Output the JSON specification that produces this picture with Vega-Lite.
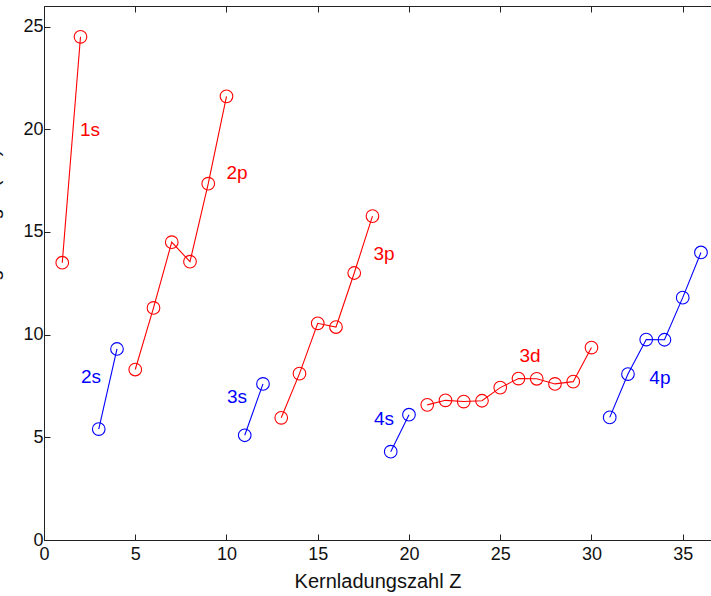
{
  "$schema": "https://vega.github.io/schema/vega-lite/v6.json",
  "autosize": "none",
  "width": 667,
  "height": 534,
  "padding": {"left": 44, "top": 6, "right": 0, "bottom": 56},
  "background": "white",
  "config": {
    "view": {"stroke": "#222222", "strokeWidth": 1},
    "font": "Liberation Sans",
    "axis": {
      "grid": false,
      "domainColor": "#222222",
      "tickColor": "#222222",
      "tickSize": -6,
      "ticks": true,
      "labelColor": "#111111",
      "labelFontSize": 18,
      "labelFont": "Liberation Sans",
      "titleFont": "Liberation Sans",
      "titleFontWeight": "normal",
      "titleColor": "#111111",
      "titleFontSize": 20
    }
  },
  "datasets": {
    "pts": [
      {"Z": 1, "E": 13.5, "shell": "1s", "grp": "red"},
      {"Z": 2, "E": 24.5, "shell": "1s", "grp": "red"},
      {"Z": 3, "E": 5.4, "shell": "2s", "grp": "blue"},
      {"Z": 4, "E": 9.3, "shell": "2s", "grp": "blue"},
      {"Z": 5, "E": 8.3, "shell": "2p", "grp": "red"},
      {"Z": 6, "E": 11.3, "shell": "2p", "grp": "red"},
      {"Z": 7, "E": 14.5, "shell": "2p", "grp": "red"},
      {"Z": 8, "E": 13.55, "shell": "2p", "grp": "red"},
      {"Z": 9, "E": 17.35, "shell": "2p", "grp": "red"},
      {"Z": 10, "E": 21.6, "shell": "2p", "grp": "red"},
      {"Z": 11, "E": 5.1, "shell": "3s", "grp": "blue"},
      {"Z": 12, "E": 7.6, "shell": "3s", "grp": "blue"},
      {"Z": 13, "E": 5.95, "shell": "3p", "grp": "red"},
      {"Z": 14, "E": 8.1, "shell": "3p", "grp": "red"},
      {"Z": 15, "E": 10.55, "shell": "3p", "grp": "red"},
      {"Z": 16, "E": 10.37, "shell": "3p", "grp": "red"},
      {"Z": 17, "E": 13.0, "shell": "3p", "grp": "red"},
      {"Z": 18, "E": 15.77, "shell": "3p", "grp": "red"},
      {"Z": 19, "E": 4.3, "shell": "4s", "grp": "blue"},
      {"Z": 20, "E": 6.1, "shell": "4s", "grp": "blue"},
      {"Z": 21, "E": 6.58, "shell": "3d", "grp": "red"},
      {"Z": 22, "E": 6.8, "shell": "3d", "grp": "red"},
      {"Z": 23, "E": 6.74, "shell": "3d", "grp": "red"},
      {"Z": 24, "E": 6.78, "shell": "3d", "grp": "red"},
      {"Z": 25, "E": 7.42, "shell": "3d", "grp": "red"},
      {"Z": 26, "E": 7.86, "shell": "3d", "grp": "red"},
      {"Z": 27, "E": 7.85, "shell": "3d", "grp": "red"},
      {"Z": 28, "E": 7.6, "shell": "3d", "grp": "red"},
      {"Z": 29, "E": 7.71, "shell": "3d", "grp": "red"},
      {"Z": 30, "E": 9.37, "shell": "3d", "grp": "red"},
      {"Z": 31, "E": 5.97, "shell": "4p", "grp": "blue"},
      {"Z": 32, "E": 8.08, "shell": "4p", "grp": "blue"},
      {"Z": 33, "E": 9.76, "shell": "4p", "grp": "blue"},
      {"Z": 34, "E": 9.75, "shell": "4p", "grp": "blue"},
      {"Z": 35, "E": 11.8, "shell": "4p", "grp": "blue"},
      {"Z": 36, "E": 14.0, "shell": "4p", "grp": "blue"}
    ],
    "labels": [
      {"Z": 2.52, "E": 19.96, "text": "1s", "grp": "red"},
      {"Z": 10.58, "E": 17.87, "text": "2p", "grp": "red"},
      {"Z": 18.63, "E": 13.92, "text": "3p", "grp": "red"},
      {"Z": 26.63, "E": 8.96, "text": "3d", "grp": "red"},
      {"Z": 2.58, "E": 7.94, "text": "2s", "grp": "blue"},
      {"Z": 10.58, "E": 6.96, "text": "3s", "grp": "blue"},
      {"Z": 18.63, "E": 5.89, "text": "4s", "grp": "blue"},
      {"Z": 33.75, "E": 7.89, "text": "4p", "grp": "blue"}
    ]
  },
  "layer": [
    {
      "data": {"name": "pts"},
      "mark": {"type": "line", "strokeWidth": 1.1},
      "encoding": {
        "x": {"field": "Z", "type": "quantitative", "scale": {"domain": [0, 36.55], "nice": false, "zero": false},
              "axis": {"orient": "bottom", "title": "Kernladungszahl Z", "values": [0, 5, 10, 15, 20, 25, 30, 35], "labelPadding": 11, "titlePadding": 8, "labelFlush": false}},
        "y": {"field": "E", "type": "quantitative", "scale": {"domain": [0, 26], "nice": false},
              "axis": {"orient": "left", "title": "Ionisierungsenergie (eV)", "values": [0, 5, 10, 15, 20, 25], "labelPadding": 7, "titleAngle": -90, "titleBaseline": "alphabetic", "titleAlign": "center", "titleX": -46, "titleY": 252}},
        "detail": {"field": "shell"},
        "color": {"field": "grp", "type": "nominal", "scale": {"domain": ["red", "blue"], "range": ["#ff0000", "#0000ff"]}, "legend": null},
        "order": {"field": "Z"}
      }
    },
    {
      "data": {"name": "pts"},
      "mark": {"type": "point", "shape": "circle", "filled": false, "size": 160, "strokeWidth": 1.1, "opacity": 1},
      "encoding": {
        "x": {"field": "Z", "type": "quantitative", "axis": {"orient": "top", "labels": false, "title": null, "domain": false, "ticks": true, "tickSize": -6, "values": [0, 5, 10, 15, 20, 25, 30, 35]}},
        "y": {"field": "E", "type": "quantitative"},
        "color": {"field": "grp", "type": "nominal", "legend": null}
      }
    },
    {
      "data": {"name": "labels"},
      "mark": {"type": "text", "fontSize": 19, "align": "center", "baseline": "middle", "font": "Liberation Sans"},
      "encoding": {
        "x": {"field": "Z", "type": "quantitative", "axis": null},
        "y": {"field": "E", "type": "quantitative"},
        "text": {"field": "text"},
        "color": {"field": "grp", "type": "nominal", "legend": null}
      }
    }
  ],
  "resolve": {"axis": {"x": "independent"}}
}
